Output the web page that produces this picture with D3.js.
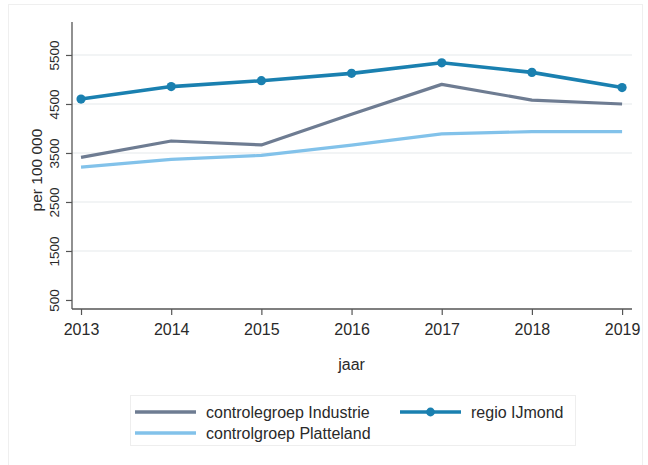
<!DOCTYPE html>
<html><head><meta charset="utf-8">
<script src="https://cdn.jsdelivr.net/npm/d3@7"></script>
<style>body{margin:0;background:#fff}svg{display:block;font-family:"Liberation Sans",Arial,sans-serif}</style>
</head><body><svg id="c" width="648" height="465"></svg>
<script>
const years = [2013, 2014, 2015, 2016, 2017, 2018, 2019];
const industrie = [3410, 3745, 3665, 4290, 4900, 4580, 4500];
const platteland = [3210, 3370, 3450, 3660, 3890, 3935, 3935];
const ijmond = [4600, 4855, 4975, 5125, 5340, 5145, 4835];
const yTicks = [500, 1500, 2500, 3500, 4500, 5500];
const gridTicks = [1500, 2500, 3500, 4500, 5500];
const seriesNames = ["controlegroep Industrie", "controlgroep Platteland", "regio IJmond"];

const svg = d3.select("#c");
const x = d3.scaleLinear().domain([2012.9, 2019.11]).range([72, 632]);
const y = d3.scaleLinear().domain([316, 6173]).range([309, 22]);

svg.append("rect").attr("x", 8.5).attr("y", 4.5).attr("width", 634).attr("height", 470)
  .attr("fill", "none").attr("stroke", "#efefef");

// grid
svg.append("g").selectAll("line").data(gridTicks).join("line")
  .attr("x1", x(2012.9)).attr("x2", x(2019.11))
  .attr("y1", d => y(d)).attr("y2", d => y(d))
  .attr("stroke", "#eef0f2").attr("stroke-width", 1.5);

// axes
const yAxis = svg.append("g").attr("transform", `translate(${x(2012.9)},0)`)
  .call(d3.axisLeft(y).tickValues(yTicks).tickSize(6).tickFormat(d3.format("d")));
yAxis.select(".domain").attr("d", `M0,${y(316)}V${y(6173)}`).attr("stroke", "#555").attr("stroke-width", 1.3);
yAxis.selectAll(".tick line").attr("stroke", "#555").attr("stroke-width", 1.2);
yAxis.selectAll(".tick text").attr("x", 0).attr("dy", 0)
  .attr("transform", "translate(-13,0) rotate(-90)")
  .attr("text-anchor", "middle").attr("font-size", 13.5).attr("fill", "#2a2a2a")
  .attr("font-family", "Liberation Sans, Arial, sans-serif");

const xAxis = svg.append("g").attr("transform", `translate(0,${y(316)})`)
  .call(d3.axisBottom(x).tickValues(years).tickSize(6).tickFormat(d3.format("d")));
xAxis.select(".domain").attr("d", `M${x(2012.9)},0H${x(2019.11)}`).attr("stroke", "#555").attr("stroke-width", 1.3);
xAxis.selectAll(".tick line").attr("stroke", "#555").attr("stroke-width", 1.2);
xAxis.selectAll(".tick text").attr("y", 0).attr("dy", 0).attr("transform", "translate(0,26)")
  .attr("font-size", 16).attr("fill", "#2a2a2a").attr("font-family", "Liberation Sans, Arial, sans-serif");

svg.append("text").attr("transform", "translate(42,170) rotate(-90)").attr("text-anchor", "middle")
  .attr("font-size", 15.5).attr("fill", "#2a2a2a").text("per 100 000");
svg.append("text").attr("x", (x(2013) + x(2019)) / 2).attr("y", 370).attr("text-anchor", "middle")
  .attr("font-size", 16).attr("fill", "#2a2a2a").text("jaar");

const line = d3.line().x((d, i) => x(years[i])).y(d => y(d));
const colors = ["#6e7c92", "#82c2ea", "#1a80b0"];
svg.append("path").datum(platteland).attr("d", line).attr("fill", "none").attr("stroke", colors[1]).attr("stroke-width", 3.2).attr("stroke-linejoin", "round");
svg.append("path").datum(industrie).attr("d", line).attr("fill", "none").attr("stroke", colors[0]).attr("stroke-width", 3.2).attr("stroke-linejoin", "round");
svg.append("path").datum(ijmond).attr("d", line).attr("fill", "none").attr("stroke", colors[2]).attr("stroke-width", 3.6).attr("stroke-linejoin", "round");
svg.append("g").selectAll("circle").data(ijmond).join("circle")
  .attr("cx", (d, i) => x(years[i])).attr("cy", d => y(d)).attr("r", 4.6).attr("fill", colors[2]);

// legend
const lg = svg.append("g");
lg.append("rect").attr("x", 130.5).attr("y", 395.5).attr("width", 445).attr("height", 50)
  .attr("fill", "#fff").attr("stroke", "#eeeeee");
const items = [
  {name: seriesNames[0], c: colors[0], lx: 135, ty: 412, dot: false},
  {name: seriesNames[1], c: colors[1], lx: 135, ty: 433, dot: false},
  {name: seriesNames[2], c: colors[2], lx: 400, ty: 412, dot: true}
];
items.forEach(it => {
  lg.append("line").attr("x1", it.lx).attr("x2", it.lx + 61).attr("y1", it.ty).attr("y2", it.ty)
    .attr("stroke", it.c).attr("stroke-width", 3.4);
  if (it.dot) lg.append("circle").attr("cx", it.lx + 30.5).attr("cy", it.ty).attr("r", 4.4).attr("fill", it.c);
  lg.append("text").attr("x", it.lx + 71).attr("y", it.ty).attr("dy", "0.35em")
    .attr("font-size", 16).attr("fill", "#2a2a2a").text(it.name);
});
</script></body></html>
